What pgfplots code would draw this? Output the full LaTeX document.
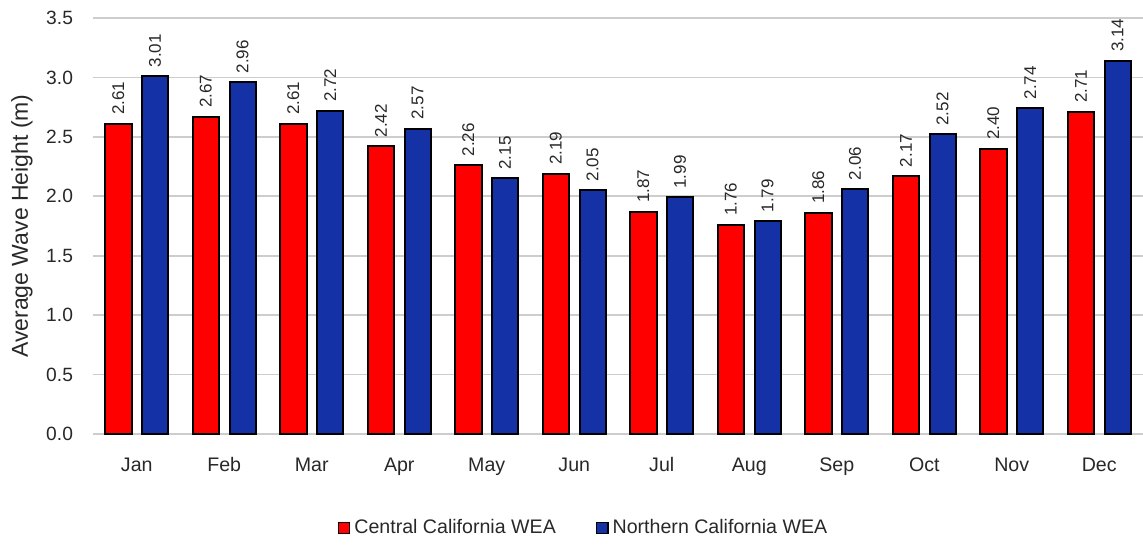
\documentclass[border=0pt]{standalone}
\usepackage{pgfplots}
\pgfplotsset{compat=1.18}
\usepackage{fontspec}
\setmainfont{Liberation Sans}
\definecolor{cred}{RGB}{255,0,0}
\definecolor{cblue}{RGB}{20,50,165}
\definecolor{gridc}{RGB}{205,205,205}
\definecolor{txt}{RGB}{40,40,40}
\begin{document}
\begin{tikzpicture}
\begin{axis}[
  scale only axis,
  width=525pt, height=208pt,
  at={(0,0)}, anchor=south west,
  xmin=-0.5, xmax=11.5, ymin=0, ymax=3.5,
  ybar, bar width=0.30,
  clip=false,
  axis line style={draw=none},
  major tick length=0pt,
  ymajorgrids, grid style={gridc, line width=0.8pt},
  ytick={0,0.5,1,1.5,2,2.5,3,3.5},
  xtick={0,1,2,3,4,5,6,7,8,9,10,11},
  xticklabels={Jan,Feb,Mar,Apr,May,Jun,Jul,Aug,Sep,Oct,Nov,Dec},
  /pgf/number format/assume math mode=true,
  yticklabel style={/pgf/number format/fixed, /pgf/number format/precision=1, /pgf/number format/fixed zerofill, font=\fontsize{9.6}{11}\selectfont, text=txt, xshift=-6.5pt},
  xticklabel style={font=\fontsize{9.8}{11}\selectfont, text=txt, anchor=base, yshift=-18.5pt},
  every axis y label/.style={at={(axis description cs:-0.0676,0.5)}, rotate=90, anchor=center, font=\fontsize{11.5}{13}\selectfont, text=txt},
  ylabel={Average Wave Height (m)},
  nodes near coords,
  nodes near coords style={rotate=90, anchor=west, font=\fontsize{8.5}{10}\selectfont, text=txt, /pgf/number format/fixed, /pgf/number format/precision=2, /pgf/number format/fixed zerofill, /pgf/number format/assume math mode=true, inner xsep=4pt},
  legend style={at={(0.468,0)}, anchor=center, yshift=-47pt, draw=none, fill=none, legend columns=2, font=\fontsize{9.8}{11}\selectfont, text=txt, /tikz/every even column/.append style={column sep=18pt}},
  legend image code/.code={\draw[#1, draw=black, line width=0.8pt] (0pt,-2.8pt) rectangle (5.6pt,2.8pt);},
]
\addplot[fill=cred, draw=black, line width=1pt, bar shift=-0.21] coordinates {
(0,2.61) (1,2.67) (2,2.61) (3,2.42) (4,2.26) (5,2.19) (6,1.87) (7,1.76) (8,1.86) (9,2.17) (10,2.40) (11,2.71)};
\addlegendentry{Central California WEA}
\addplot[fill=cblue, draw=black, line width=1pt, bar shift=0.21] coordinates {
(0,3.01) (1,2.96) (2,2.72) (3,2.57) (4,2.15) (5,2.05) (6,1.99) (7,1.79) (8,2.06) (9,2.52) (10,2.74) (11,3.14)};
\addlegendentry{Northern California WEA}
\end{axis}
\pgfresetboundingbox
\path[use as bounding box] (-46.5pt,-56pt) rectangle (525pt,217pt);
\end{tikzpicture}
\end{document}
